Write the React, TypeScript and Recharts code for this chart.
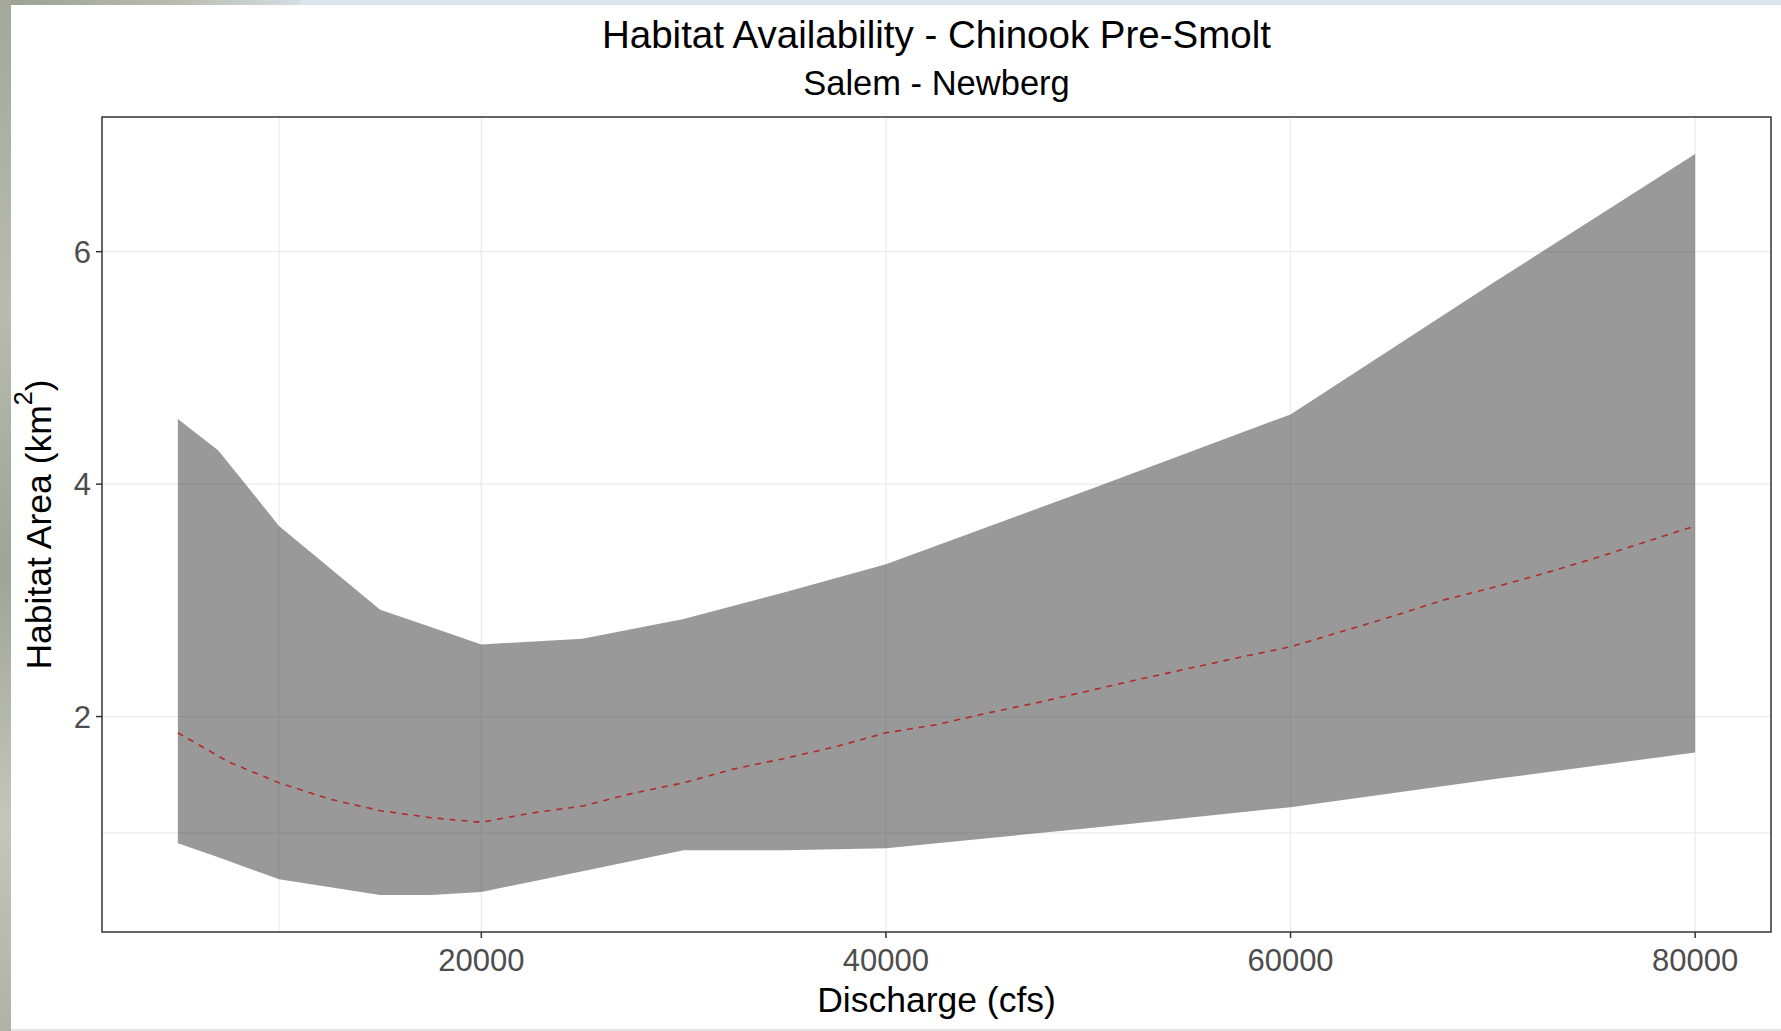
import React from 'react';
import { ComposedChart, Area, Line, XAxis, YAxis, CartesianGrid } from 'recharts';

// ribbon: lower / upper habitat area (km^2) by discharge (cfs)
const bandFlow = [5000, 7000, 10000, 15000, 17500, 20000, 25000, 30000, 35000, 40000, 50000, 60000, 70000, 80000];
const bandUpper = [4.56, 4.29, 3.64, 2.92, 2.77, 2.62, 2.67, 2.84, 3.07, 3.31, 3.95, 4.6, 5.73, 6.84];
const bandLower = [0.91, 0.79, 0.6, 0.465, 0.465, 0.49, 0.67, 0.85, 0.85, 0.866, 1.04, 1.22, 1.46, 1.69];

// dashed mean curve
const meanFlow = [
  5000, 7500, 10000, 12500, 15000, 17500, 20000, 22500, 25000, 27500, 30000, 32500, 35000, 37500, 40000,
  42500, 45000, 47500, 50000, 52500, 55000, 57500, 60000, 62500, 65000, 67500, 70000, 72500, 75000, 77500, 80000,
];
const meanArea = [
  1.86, 1.61, 1.43, 1.29, 1.19, 1.13, 1.09, 1.17, 1.23, 1.34, 1.43, 1.55, 1.64, 1.74, 1.86,
  1.93, 2.03, 2.12, 2.22, 2.32, 2.415, 2.51, 2.6, 2.73, 2.86, 3.0, 3.11, 3.23, 3.36, 3.5, 3.64,
];

const xTicks = [20000, 40000, 60000, 80000];
const xMinor = [10000, 30000, 50000, 70000];
const yTicks = [2, 4, 6];
const yMinor = [1, 3, 5, 7];

const title = 'Habitat Availability - Chinook Pre-Smolt';
const subtitle = 'Salem - Newberg';
const xTitle = 'Discharge (cfs)';
const yTitle = 'Habitat Area (km';

const W = 1781;
const H = 1031;
const FONT = '"Liberation Sans", Arial, sans-serif';

// one row per flow value, nulls where a series has no point
const flows = Array.from(new Set([...bandFlow, ...meanFlow])).sort((a, b) => a - b);
const rows = flows.map((q) => {
  const bi = bandFlow.indexOf(q);
  const mi = meanFlow.indexOf(q);
  return {
    q,
    band: bi >= 0 ? [bandLower[bi], bandUpper[bi]] : null,
    mean: mi >= 0 ? meanArea[mi] : null,
  };
});

// ggplot-style 5% expansion of the data range
const xLo = Math.min(...bandFlow);
const xHi = Math.max(...bandFlow);
const xPad = (xHi - xLo) * 0.05;
const yLo = Math.min(...bandLower);
const yHi = Math.max(...bandUpper);
const yPad = (yHi - yLo) * 0.05;
const xDomain: [number, number] = [xLo - xPad, xHi + xPad];
const yDomain: [number, number] = [yLo - yPad, yHi + yPad];

const MARGIN = { top: 117, right: 10, bottom: 0, left: 0 };
const Y_AXIS_W = 102;
const X_AXIS_H = 99;
const plotLeft = MARGIN.left + Y_AXIS_W;
const plotRight = W - MARGIN.right;
const plotTop = MARGIN.top;
const plotBottom = H - MARGIN.bottom - X_AXIS_H;

const tickLine = { stroke: '#333333', strokeWidth: 1.5 };
const tickStyle = { fill: '#4d4d4d', fontSize: 31, fontFamily: FONT };

export default function App() {
  const cx = (plotLeft + plotRight) / 2;
  const cy = (plotTop + plotBottom) / 2;
  return (
    <div style={{ position: 'fixed', left: 0, top: 0, width: W, height: H, overflow: 'hidden', background: '#dde6ef' }}>
      {/* backdrop strips around the white card */}
      <div style={{ position: 'absolute', left: 0, top: 0, width: 300, height: 6, background: 'linear-gradient(90deg,#9aa292,#b9bdb0 60%,#d5dde4)' }} />
      <div
        style={{
          position: 'absolute',
          left: 0,
          top: 0,
          width: 11,
          height: H,
          background: 'linear-gradient(180deg,#a3aa9a,#b7bcae 30%,#9ea595 55%,#c3c6bd 80%,#aeb2a8)',
        }}
      />
      <div style={{ position: 'absolute', left: 11, top: 5, right: 0, bottom: 0, background: '#ffffff', borderBottom: '2px solid #e4e4e4' }} />

      <div style={{ position: 'absolute', left: 0, top: 0 }}>
        <ComposedChart width={W} height={H} data={rows} margin={MARGIN}>
          <CartesianGrid
            stroke="#ebebeb"
            strokeWidth={1.2}
            horizontalValues={[...yMinor, ...yTicks]}
            verticalValues={[...xMinor, ...xTicks]}
          />
          <XAxis
            dataKey="q"
            type="number"
            domain={xDomain}
            ticks={xTicks}
            allowDataOverflow
            height={X_AXIS_H}
            tick={tickStyle}
            tickSize={6}
            tickMargin={11}
            tickLine={tickLine}
            axisLine={false}
          />
          <YAxis
            type="number"
            domain={yDomain}
            ticks={yTicks}
            allowDataOverflow
            width={Y_AXIS_W}
            tick={tickStyle}
            tickSize={6}
            tickMargin={5}
            tickLine={tickLine}
            axisLine={false}
          />
          <Area
            dataKey="band"
            type="linear"
            stroke="none"
            fill="#333333"
            fillOpacity={0.5}
            connectNulls
            isAnimationActive={false}
          />
          <Line
            dataKey="mean"
            type="linear"
            stroke="#b22a2a"
            strokeWidth={1.6}
            strokeDasharray="6 6"
            dot={false}
            activeDot={false}
            connectNulls
            isAnimationActive={false}
          />
        </ComposedChart>
      </div>

      <svg width={W} height={H} style={{ position: 'absolute', left: 0, top: 0, pointerEvents: 'none' }} fontFamily={FONT}>
        {/* panel border */}
        <rect
          x={plotLeft}
          y={plotTop}
          width={plotRight - plotLeft}
          height={plotBottom - plotTop}
          fill="none"
          stroke="#333333"
          strokeWidth={1.5}
        />
        <text x={cx} y={34} textAnchor="middle" dominantBaseline="central" fontSize={38.5} fill="#000">
          {title}
        </text>
        <text x={cx} y={83} textAnchor="middle" dominantBaseline="central" fontSize={34.5} fill="#000">
          {subtitle}
        </text>
        <text x={cx} y={1000} textAnchor="middle" dominantBaseline="central" fontSize={35.5} fill="#000">
          {xTitle}
        </text>
        <text
          x={39}
          y={cy}
          transform={`rotate(-90 39 ${cy})`}
          textAnchor="middle"
          dominantBaseline="central"
          fontSize={35.5}
          fill="#000"
        >
          {yTitle}
          <tspan dy={-16} fontSize={25}>
            2
          </tspan>
          <tspan dy={16}>)</tspan>
        </text>
      </svg>
    </div>
  );
}
